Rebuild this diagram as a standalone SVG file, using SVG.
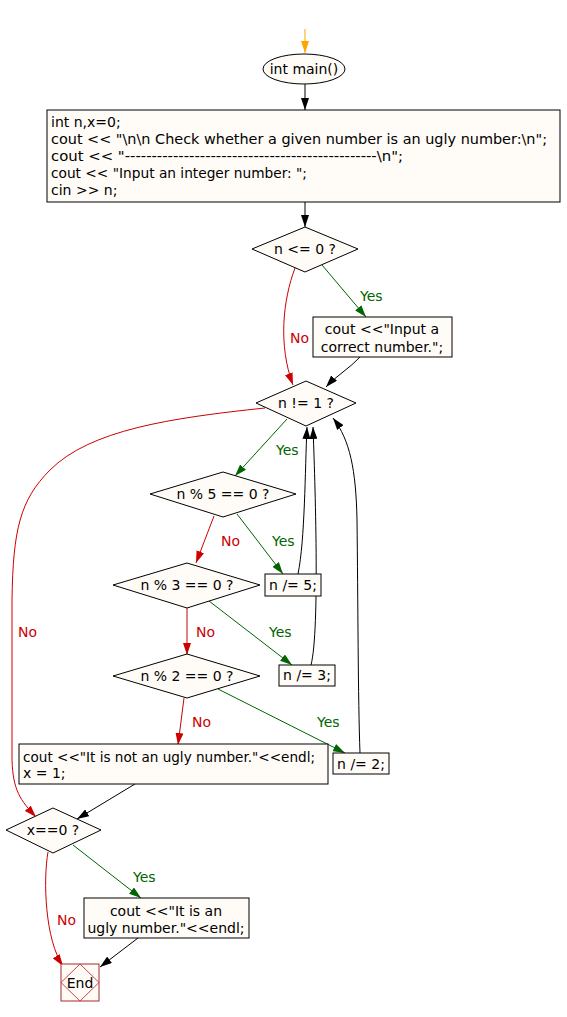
<svg xmlns="http://www.w3.org/2000/svg" width="567" height="1017" viewBox="0 0 567 1017">
<defs>
<style>
.n{fill:#fffcf7;stroke:#000;stroke-width:1}
.t{font-family:"DejaVu Sans",sans-serif;font-size:14px;fill:#000}
.c{text-anchor:middle}
.e{fill:none;stroke:#000;stroke-width:1}
.g{fill:none;stroke:#006400;stroke-width:1}
.r{fill:none;stroke:#cc0000;stroke-width:1}
.lg{font-family:"DejaVu Sans",sans-serif;font-size:14px;fill:#006400}
.lr{font-family:"DejaVu Sans",sans-serif;font-size:14px;fill:#cc0000}
</style>
<marker id="ab" viewBox="0 0 12 8" refX="12" refY="4" markerWidth="12" markerHeight="8" markerUnits="userSpaceOnUse" orient="auto"><path d="M0,0 L12,4 L0,8 z" fill="#000"/></marker>
<marker id="ag" viewBox="0 0 12 8" refX="12" refY="4" markerWidth="12" markerHeight="8" markerUnits="userSpaceOnUse" orient="auto"><path d="M0,0 L12,4 L0,8 z" fill="#006400"/></marker>
<marker id="ar" viewBox="0 0 12 8" refX="12" refY="4" markerWidth="12" markerHeight="8" markerUnits="userSpaceOnUse" orient="auto"><path d="M0,0 L12,4 L0,8 z" fill="#cc0000"/></marker>
<marker id="ao" viewBox="0 0 12 8" refX="12" refY="4" markerWidth="12" markerHeight="8" markerUnits="userSpaceOnUse" orient="auto"><path d="M0,0 L12,4 L0,8 z" fill="#ffa500"/></marker>
</defs>
<g id="connectors">
<path d="M305,29 L305,53" fill="none" stroke="#ffa500" stroke-width="1" marker-end="url(#ao)"/>
<path class="e" d="M305,84 L305,110" marker-end="url(#ab)"/>
<path class="e" d="M305,202 L305,227" marker-end="url(#ab)"/>
<path class="g" d="M322,265 L366,317" marker-end="url(#ag)"/>
<path class="r" d="M295,268 C283,300 278,345 293,385" marker-end="url(#ar)"/>
<path class="e" d="M360,357 C350,368 336,376 326,387" marker-end="url(#ab)"/>
<path class="r" d="M265,408 C170,418 90,430 50,470 C20,500 13,530 12,600 L12,760 C13,790 20,800 36,817" marker-end="url(#ar)"/>
<path class="g" d="M287,419 L235,476" marker-end="url(#ag)"/>
<path class="r" d="M214,516 L196,563" marker-end="url(#ar)"/>
<path class="g" d="M237,514 L283,574" marker-end="url(#ag)"/>
<path class="r" d="M187,608 L187,655" marker-end="url(#ar)"/>
<path class="g" d="M209,601 L292,665" marker-end="url(#ag)"/>
<path class="r" d="M184,698 L178,745" marker-end="url(#ar)"/>
<path class="g" d="M218,689 L345,753" marker-end="url(#ag)"/>
<path class="e" d="M135,784 L77,819" marker-end="url(#ab)"/>
<path class="r" d="M48,852 C43,880 45,940 63,966" marker-end="url(#ar)"/>
<path class="g" d="M73,845 L141,898" marker-end="url(#ag)"/>
<path class="e" d="M138,938 L100,967" marker-end="url(#ab)"/>
<path class="e" d="M298,574 C305,540 305,470 307,427" marker-end="url(#ab)"/>
<path class="e" d="M311,665 C320,630 315,480 313,427" marker-end="url(#ab)"/>
<path class="e" d="M360,753 C358,700 358,600 357,520 C356,470 350,440 333,418" marker-end="url(#ab)"/>
<text class="lg" x="360" y="301">Yes</text>
<text class="lr" x="290" y="343">No</text>
<text class="lr" x="18" y="637">No</text>
<text class="lg" x="276" y="455">Yes</text>
<text class="lr" x="221" y="546">No</text>
<text class="lg" x="272" y="546">Yes</text>
<text class="lr" x="196" y="637">No</text>
<text class="lg" x="269" y="637">Yes</text>
<text class="lr" x="192" y="727">No</text>
<text class="lg" x="317" y="727">Yes</text>
<text class="lg" x="133" y="882">Yes</text>
<text class="lr" x="57" y="925">No</text>
</g>
<g id="start"><ellipse class="n" cx="304" cy="69" rx="41" ry="15"/><text class="t c" x="304" y="74">int main()</text></g>
<g id="init"><rect class="n" x="47" y="110" width="513" height="92"/>
<text class="t" x="51" y="127">int n,x=0;</text>
<text class="t" x="51" y="144" textLength="496" lengthAdjust="spacingAndGlyphs">cout &lt;&lt; "\n\n Check whether a given number is an ugly number:\n";</text>
<text class="t" x="51" y="161" textLength="352" lengthAdjust="spacingAndGlyphs">cout &lt;&lt; "-----------------------------------------------\n";</text>
<text class="t" x="51" y="178" textLength="256" lengthAdjust="spacingAndGlyphs">cout &lt;&lt; "Input an integer number: ";</text>
<text class="t" x="51" y="195">cin &gt;&gt; n;</text></g>
<g id="d1"><polygon class="n" points="305,227 358,249 305,272 252,249"/><text class="t c" x="305" y="254">n &lt;= 0 ?</text></g>
<g id="p1"><rect class="n" x="313" y="317" width="139" height="40"/><text class="t c" x="382" y="334">cout &lt;&lt;"Input a</text><text class="t c" x="382" y="352">correct number.";</text></g>
<g id="d2"><polygon class="n" points="306,381 356,403 306,426 256,403"/><text class="t c" x="306" y="408">n != 1 ?</text></g>
<g id="d3"><polygon class="n" points="223,472 296,494 223,517 150,494"/><text class="t c" x="223" y="499">n % 5 == 0 ?</text></g>
<g id="p5"><rect class="n" x="265" y="574" width="56" height="22"/><text class="t c" x="293" y="590">n /= 5;</text></g>
<g id="d4"><polygon class="n" points="187,563 260,585 187,608 113,585"/><text class="t c" x="187" y="590">n % 3 == 0 ?</text></g>
<g id="p3"><rect class="n" x="279" y="665" width="56" height="21"/><text class="t c" x="307" y="680">n /= 3;</text></g>
<g id="d5"><polygon class="n" points="187,654 260,676 187,698 113,676"/><text class="t c" x="187" y="681">n % 2 == 0 ?</text></g>
<g id="p2"><rect class="n" x="333" y="753" width="56" height="21"/><text class="t c" x="361" y="769">n /= 2;</text></g>
<g id="notugly"><rect class="n" x="19" y="744" width="309" height="40"/><text class="t" x="23" y="762" textLength="292" lengthAdjust="spacingAndGlyphs">cout &lt;&lt;"It is not an ugly number."&lt;&lt;endl;</text><text class="t" x="23" y="778">x = 1;</text></g>
<g id="d6"><polygon class="n" points="53,808 101,830 53,853 6,830"/><text class="t c" x="53" y="835">x==0 ?</text></g>
<g id="ugly"><rect class="n" x="84" y="898" width="165" height="40"/><text class="t c" x="166" y="916">cout &lt;&lt;"It is an</text><text class="t c" x="166" y="933">ugly number."&lt;&lt;endl;</text></g>
<g id="end"><rect x="61" y="964" width="38" height="37" fill="#fffcf7" stroke="#a52a2a"/><polygon points="80,964 99,982.5 80,1001 61,982.5" fill="none" stroke="#cc4444"/><text class="t c" x="80" y="988">End</text></g>
</svg>
